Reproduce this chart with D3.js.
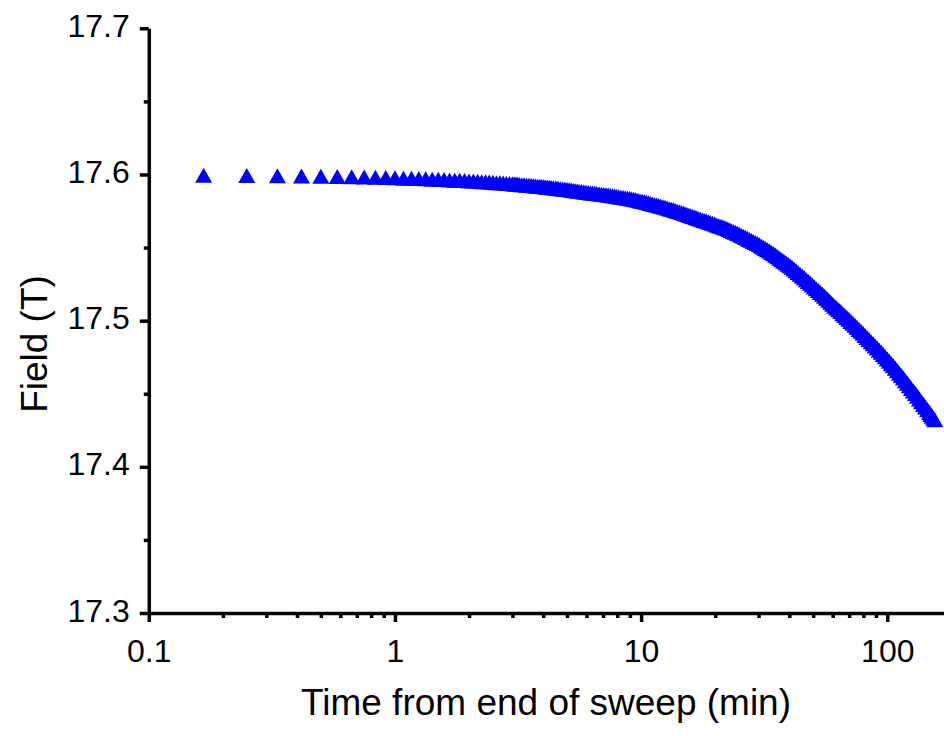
<!DOCTYPE html>
<html>
<head>
<meta charset="utf-8">
<script src="https://cdn.jsdelivr.net/npm/d3@7"></script>
<style>
  html, body { margin: 0; padding: 0; background: #fff; }
  svg { display: block; }
  text { font-family: "Liberation Sans", Arial, Helvetica, sans-serif; fill: #000; }
</style>
</head>
<body>
<svg id="chart" width="944" height="736"></svg>
<script>
// ---- data ----
const times = [
  0.167, 0.25, 0.333, 0.417, 0.5, 0.583, 0.667, 0.75, 0.833, 0.917,
  1.0, 1.083, 1.167, 1.25, 1.333, 1.417, 1.5, 1.583, 1.667, 1.75,
  1.833, 1.917, 2.0, 2.083, 2.167, 2.25, 2.333, 2.417, 2.5, 2.583,
  2.667, 2.75, 2.833, 2.917, 3.0,
  3.05, 3.1, 3.15, 3.2, 3.275, 3.35, 3.425, 3.5, 3.575, 3.65,
  3.725, 3.8, 3.875, 3.95, 4.025, 4.1, 4.175, 4.25, 4.325, 4.4,
  4.5, 4.6, 4.7, 4.8, 4.9, 5.0, 5.1, 5.2, 5.3, 5.4,
  5.5, 5.6, 5.72, 5.85, 5.97, 6.1, 6.22, 6.35, 6.47, 6.6,
  6.75, 6.9, 7.05, 7.2, 7.35, 7.5, 7.65, 7.8, 7.95, 8.1,
  8.27, 8.45, 8.62, 8.8, 8.97, 9.15, 9.32, 9.5, 9.7, 9.9,
  10.1, 10.3, 10.5, 10.7, 10.9, 11.1, 11.32, 11.55, 11.77, 12,
  12.25, 12.5, 12.75, 13, 13.25, 13.5, 13.75, 14, 14.3, 14.6,
  14.9, 15.2, 15.5, 15.8, 16.1, 16.4, 16.7, 17, 17.35, 17.7,
  18.05, 18.4, 18.75, 19.1, 19.5, 19.9, 20.3, 20.7, 21.1, 21.5,
  21.9, 22.3, 22.75, 23.2, 23.65, 24.1, 24.55, 25, 25.5, 26,
  26.5, 27, 27.5, 28, 28.55, 29.1, 29.65, 30.2, 30.8, 31.4,
  32, 32.6, 33.25, 33.9, 34.55, 35.2, 35.9, 36.6, 37.3, 38,
  38.75, 39.5, 40.25, 41, 41.8, 42.6, 43.4, 44.2, 45.1, 46,
  46.9, 47.8, 48.7, 49.6, 50.55, 51.5, 52.5, 53.5, 54.55, 55.6,
  56.7, 57.8, 58.9, 60, 61.15, 62.3, 63.5, 64.7, 65.95, 67.2,
  68.5, 69.8, 71.15, 72.5, 73.9, 75.3, 76.75, 78.2, 79.7, 81.2,
  82.75, 84.3, 85.95, 87.6, 89.3, 91, 92.75, 94.5, 96.3, 98.1,
  100, 101.9, 103.85, 105.8, 107.85, 109.9, 112, 114.1, 116.3, 118.5,
  120.75, 123, 125.35, 127.7, 130.15, 132.6, 135.15, 137.7, 140.35, 143,
  145.75, 148.5, 150.35, 152.2, 154.1, 156
];
const fields = [
  17.5994, 17.5993, 17.5991, 17.5989, 17.5988, 17.5986, 17.5984, 17.5982, 17.5981, 17.5979,
  17.5977, 17.5975, 17.5974, 17.5972, 17.5970, 17.5968, 17.5967, 17.5965, 17.5963, 17.5961,
  17.5960, 17.5958, 17.5956, 17.5955, 17.5953, 17.5951, 17.5950, 17.5948, 17.5946, 17.5944,
  17.5943, 17.5941, 17.5939, 17.5938, 17.5936,
  17.5935, 17.5934, 17.5933, 17.5932, 17.5930, 17.5929, 17.5927, 17.5926, 17.5924, 17.5923,
  17.5921, 17.5920, 17.5919, 17.5918, 17.5916, 17.5915, 17.5913, 17.5912, 17.5910, 17.5909,
  17.5907, 17.5905, 17.5903, 17.5901, 17.5899, 17.5897, 17.5895, 17.5893, 17.5891, 17.5889,
  17.5887, 17.5885, 17.5883, 17.5880, 17.5878, 17.5876, 17.5874, 17.5873, 17.5871, 17.5869,
  17.5867, 17.5865, 17.5863, 17.5861, 17.5859, 17.5857, 17.5855, 17.5852, 17.5850, 17.5848,
  17.5845, 17.5843, 17.5840, 17.5838, 17.5835, 17.5833, 17.5830, 17.5827, 17.5823, 17.5819,
  17.5816, 17.5813, 17.5810, 17.5806, 17.5802, 17.5798, 17.5795, 17.5791, 17.5787, 17.5783,
  17.5779, 17.5775, 17.5770, 17.5766, 17.5762, 17.5758, 17.5753, 17.5749, 17.5745, 17.5740,
  17.5735, 17.5729, 17.5724, 17.5719, 17.5715, 17.5710, 17.5705, 17.5700, 17.5695, 17.5690,
  17.5685, 17.5681, 17.5676, 17.5671, 17.5666, 17.5661, 17.5655, 17.5650, 17.5645, 17.5640,
  17.5635, 17.5630, 17.5623, 17.5617, 17.5610, 17.5604, 17.5598, 17.5592, 17.5585, 17.5578,
  17.5570, 17.5563, 17.5556, 17.5550, 17.5542, 17.5534, 17.5527, 17.5519, 17.5510, 17.5502,
  17.5493, 17.5485, 17.5476, 17.5466, 17.5457, 17.5448, 17.5437, 17.5427, 17.5417, 17.5407,
  17.5396, 17.5386, 17.5376, 17.5366, 17.5354, 17.5342, 17.5330, 17.5318, 17.5305, 17.5293,
  17.5280, 17.5268, 17.5256, 17.5244, 17.5231, 17.5219, 17.5206, 17.5193, 17.5180, 17.5167,
  17.5153, 17.5140, 17.5126, 17.5112, 17.5099, 17.5087, 17.5074, 17.5062, 17.5048, 17.5035,
  17.5022, 17.5009, 17.4995, 17.4982, 17.4968, 17.4954, 17.4940, 17.4927, 17.4913, 17.4899,
  17.4885, 17.4871, 17.4856, 17.4842, 17.4827, 17.4813, 17.4798, 17.4783, 17.4768, 17.4753,
  17.4737, 17.4722, 17.4706, 17.4691, 17.4674, 17.4658, 17.4641, 17.4625, 17.4607, 17.4589,
  17.4571, 17.4554, 17.4536, 17.4519, 17.4501, 17.4483, 17.4464, 17.4446, 17.4427, 17.4409,
  17.4390, 17.4371, 17.4358, 17.4346, 17.4334, 17.4322
];
const xDomain = [0.1, 170];
const yDomain = [17.3, 17.7];
const xTicks = [0.1, 1, 10, 100];
const xTickLabels = ["0.1", "1", "10", "100"];
const xMinorTicks = [0.2, 0.3, 0.4, 0.5, 0.6, 0.7, 0.8, 0.9, 2, 3, 4, 5, 6, 7, 8, 9, 20, 30, 40, 50, 60, 70, 80, 90];
const yTicks = [17.3, 17.4, 17.5, 17.6, 17.7];
const yTickLabels = ["17.3", "17.4", "17.5", "17.6", "17.7"];
const yMinorTicks = [17.35, 17.45, 17.55, 17.65];
const xTitle = "Time from end of sweep (min)";
const yTitle = "Field (T)";

// ---- drawing ----
const svg = d3.select("#chart");
const x = d3.scaleLog().domain(xDomain).range([148.8, 944]);
const y = d3.scaleLinear().domain(yDomain).range([613, 28.3]);

const data = times.map((t, i) => ({ t, f: fields[i] }));

// markers (up triangles)
const tri = "M0,-7.5L8.5,7.5L-8.5,7.5Z";
svg.append("g")
  .selectAll("path")
  .data(data)
  .join("path")
  .attr("d", tri)
  .attr("transform", d => `translate(${x(d.t)},${y(d.f)})`)
  .attr("fill", "#0000ff");

const lw = 3.5;
// x axis
const gx = svg.append("g").attr("transform", `translate(0,613)`);
gx.call(d3.axisBottom(x).tickValues(xTicks).tickSize(9).tickSizeOuter(0)
  .tickFormat((d, i) => xTickLabels[i]));
const gxm = svg.append("g").attr("transform", `translate(0,613)`);
gxm.call(d3.axisBottom(x).tickValues(xMinorTicks).tickSize(5).tickSizeOuter(0).tickFormat(""));
gxm.select(".domain").remove();

// y axis
const gy = svg.append("g").attr("transform", `translate(148.8,0)`);
gy.call(d3.axisLeft(y).tickValues(yTicks).tickSize(9).tickSizeOuter(0)
  .tickFormat((d, i) => yTickLabels[i]));
const gym = svg.append("g").attr("transform", `translate(148.8,0)`);
gym.call(d3.axisLeft(y).tickValues(yMinorTicks).tickSize(5).tickSizeOuter(0).tickFormat(""));
gym.select(".domain").remove();

svg.selectAll(".domain").attr("stroke", "#000").attr("stroke-width", lw);
svg.selectAll(".tick line").attr("stroke", "#000").attr("stroke-width", lw);

gx.selectAll(".tick text")
  .attr("font-size", 32).attr("y", 0).attr("dy", 49)
  .attr("font-family", "Liberation Sans, Arial, sans-serif");
gy.selectAll(".tick text")
  .attr("font-size", 32).attr("x", -19).attr("dy", 8)
  .attr("font-family", "Liberation Sans, Arial, sans-serif");

// titles
svg.append("text")
  .attr("x", 546).attr("y", 715)
  .attr("text-anchor", "middle")
  .attr("font-size", 37)
  .text(xTitle);
svg.append("text")
  .attr("transform", "translate(47,344) rotate(-90)")
  .attr("text-anchor", "middle")
  .attr("font-size", 37)
  .text(yTitle);
</script>
</body>
</html>
